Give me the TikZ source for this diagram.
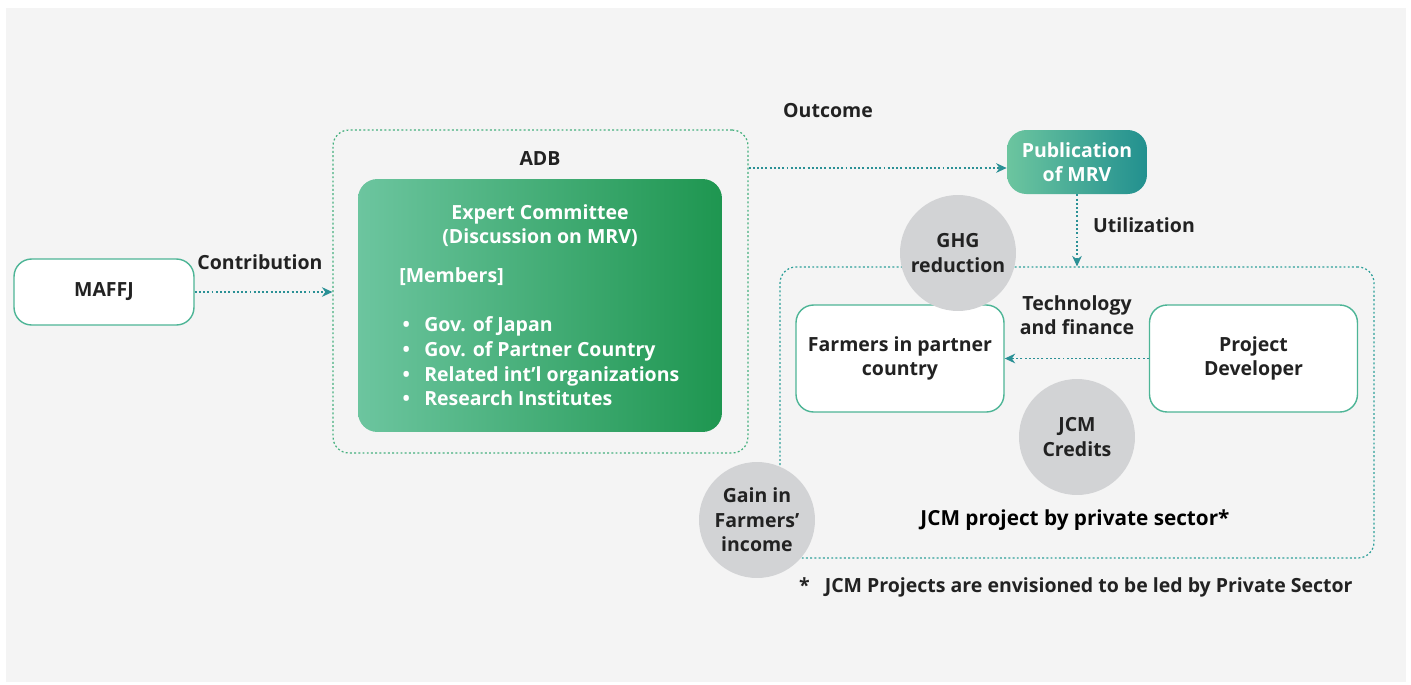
\documentclass[tikz,border=0pt]{standalone}
\usepackage{fontspec}
\setmainfont{Open Sans}
\usetikzlibrary{arrows.meta,positioning,calc}
\definecolor{pagebg}{HTML}{F4F4F4}
\definecolor{inkdark}{HTML}{222222}
\definecolor{leafgreen}{HTML}{6CC59F}
\definecolor{deepgreen}{HTML}{1E9650}
\definecolor{deepteal}{HTML}{22908F}
\definecolor{frameline}{HTML}{4DB596}
\definecolor{greenframe}{HTML}{45B07E}
\definecolor{tealframe}{HTML}{2FA09A}
\definecolor{flowteal}{HTML}{2A9095}
\definecolor{bubblegrey}{HTML}{D2D3D5}

\begin{document}
\begin{tikzpicture}[x=0.02cm, y=-0.02cm,
  every node/.style={font=\bfseries\fontsize{11.1}{14}\selectfont, text=inkdark},
  box/.style={rectangle, draw=frameline, fill=white, rounded corners=10pt, line width=0.8pt, align=center},
  frame/.style={rectangle, dash pattern=on 1.1pt off 1.3pt, line width=0.7pt, rounded corners=9pt},
  bubble/.style={circle, fill=bubblegrey, minimum size=2.32cm, inner sep=0pt, align=center},
  flow/.style={draw=flowteal, dash pattern=on 1.1pt off 1.3pt, line width=0.8pt, -{Stealth[length=6pt,width=5.5pt]}},
  tag/.style={align=center}]
\useasboundingbox (0,0) rectangle (1411,684);
\fill[pagebg] (6,8) rectangle (1406,682);

% frames
\node[frame, draw=greenframe, minimum width=8.3cm, minimum height=6.46cm] (adb) at (540.5,291.5) {};
\node[frame, draw=tealframe, minimum width=11.88cm, minimum height=5.82cm] (jcm) at (1077,412.5) {};
\node[tag] (adblabel) at (540,159) {ADB};

% boxes
\node[box, minimum width=3.6cm, minimum height=1.32cm] (maffj) at (104,292) {MAFFJ};
\node[rectangle, rounded corners=11pt, left color=leafgreen, right color=deepgreen,
      minimum width=7.28cm, minimum height=5.06cm] (expert) at (540,305.5) {};
\node[rectangle, rounded corners=11pt, left color=leafgreen, right color=deepteal,
      minimum width=2.8cm, minimum height=1.28cm, text=white, align=center] (pub) at (1077,162) {Publication\\of MRV};
\node[box, minimum width=4.16cm, minimum height=2.14cm] (farmers) at (900,358.5) {Farmers in partner\\country};
\node[box, minimum width=4.16cm, minimum height=2.14cm] (dev) at (1253.5,358.5) {Project\\Developer};

% committee text
\node[text=white, align=center] (title) at (540,225.5) {Expert Committee\\(Discussion on MRV)};
\node[text=white, anchor=west, inner sep=0pt] (members) at (399,277) {[Members]};
\node[text=white, anchor=west, align=left, inner sep=0pt] (list) at (399,361.5)
  {\makebox[0.5cm][l]{\,\textbullet}Gov. of Japan\\
   \makebox[0.5cm][l]{\,\textbullet}Gov. of Partner Country\\
   \makebox[0.5cm][l]{\,\textbullet}Related int’l organizations\\
   \makebox[0.5cm][l]{\,\textbullet}Research Institutes};

% connectors
\draw[flow] (maffj) -- (adb.west |- maffj);
\draw[flow] (adb.east |- 0,168) -- (pub.west |- 0,168);
\draw[flow] (pub) -- (pub.south |- jcm.north);
\draw[flow] (dev) -- (farmers);

% bubbles
\node[bubble] (ghg) at (958,253) {GHG\\reduction};
\node[bubble] (credits) at (1077,437) {JCM\\Credits};
\node[bubble] (gain) at (757,520) {Gain in\\Farmers’\\income};

% labels
\node[tag] (contrib) at (260,262) {Contribution};
\node[tag] (outcome) at (828,111) {Outcome};
\node[tag] (util) at (1144,225) {Utilization};
\node[tag] (tech) at (1077,315) {Technology\\and finance};
\node[tag, font=\bfseries\fontsize{11.8}{14}\selectfont, text=black] (jcmlabel) at (1075,520) {JCM project by private sector*};
\node[tag, anchor=west] (note) at (793,587) {*\hspace{0.3cm}JCM Projects are envisioned to be led by Private Sector};
\end{tikzpicture}
\end{document}
